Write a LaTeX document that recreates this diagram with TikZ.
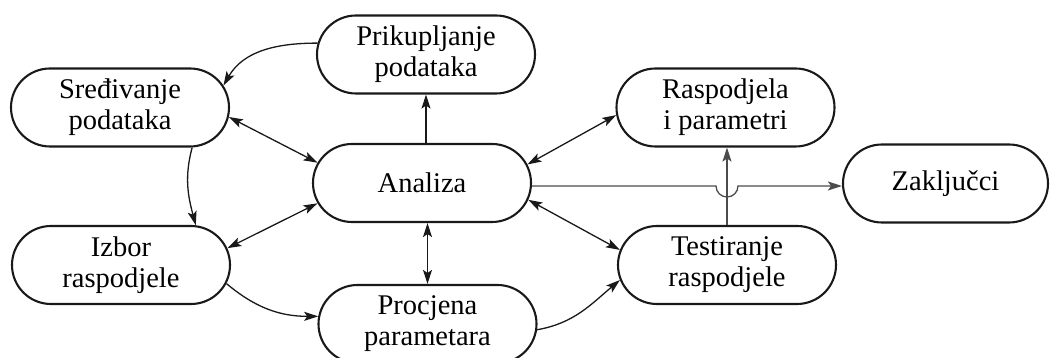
\documentclass[tikz,border=0pt]{standalone}
\usepackage{fontspec}
\setmainfont{Liberation Serif}
\usetikzlibrary{shapes.misc,arrows.meta}
\begin{document}
\begin{tikzpicture}[x=1pt,y=1pt,
  box/.style={rounded rectangle, draw=black!90, line width=2.1pt, minimum width=218pt, minimum height=78pt,
    inner sep=0pt, align=center, font=\fontsize{28.5}{31}\selectfont},
  tip/.style={},
  conn/.style={line width=1.3pt, draw=black!90, -{Stealth[length=14pt,width=9pt,inset=3pt]}},
  dconn/.style={line width=1.3pt, draw=black!90, {Stealth[length=14pt,width=9pt,inset=3pt]}-{Stealth[length=14pt,width=9pt,inset=3pt]}},
  gconn/.style={line width=1.3pt, draw=black!70, -{Stealth[length=14pt,width=9pt,inset=3pt]}}]
\useasboundingbox (0,0) rectangle (1050,358);
\node[box] (P) at (426,303.5) {Prikupljanje\\podataka};
\node[box] (S) at (120,250.5) {Sređivanje\\podataka};
\node[box] (A) at (422,175) {Analiza};
\node[box] (R) at (725.5,250.5) {Raspodjela\\i parametri};
\node[box, minimum width=205pt] (Z) at (945.5,174.5) {Zaključci};
\node[box] (I) at (121,93) {Izbor\\raspodjele};
\node[box] (C) at (427.5,34) {Procjena\\parametara};
\node[box] (T) at (727,93) {Testiranje\\raspodjele};
\coordinate (h) at (727,172);
\coordinate (hl) at (716,172);
% straight connectors
\draw[conn] (P.south |- A.north) -- (P.south);
\draw[dconn] (A.south -| C.north) -- (C.north);
\draw[dconn] (S.-5) -- (A.169);
\draw[dconn] (I.9) -- (A.191);
\draw[dconn] (A.10.5) -- (R.184);
\draw[dconn] (A.-9) -- (T.172);
\draw[gconn] (T.north) -- (T.north |- R.south);
\draw[gconn] (A.east |- h) -- (hl) arc[start angle=180, end angle=360, radius=11pt] -- (Z.west |- h);
% curved connectors
\draw[conn] (P.174) to[out=180, in=60] (S.12);
\draw[conn] (S.-29) to[out=255, in=105] (I.28);
\draw[conn] (I.-10) to[out=-40, in=180] (C.176);
\draw[conn] (C.-3) to[out=10, in=220] (T.188);
\end{tikzpicture}
\end{document}
